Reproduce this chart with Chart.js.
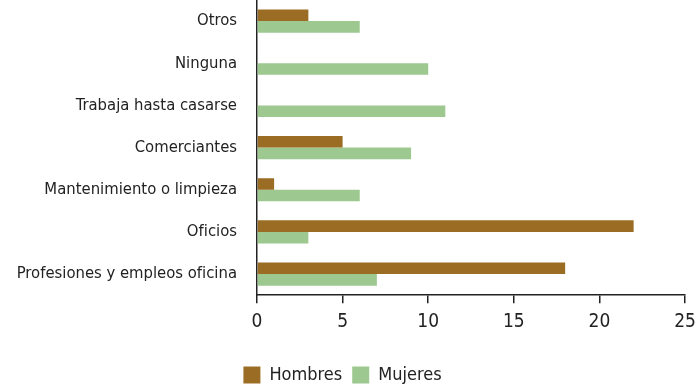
<!DOCTYPE html>
<html lang="es">
<head>
  <meta charset="utf-8" />
  <title>Ocupación: hombres y mujeres</title>
  <script src="https://cdn.jsdelivr.net/npm/chart.js"></script>
  <style>
    html, body { margin: 0; padding: 0; background: #fff; }
    #wrap { width: 700px; height: 389px; }
  </style>
</head>
<body>
  <div id="wrap"><canvas id="chart"></canvas></div>
  <script>
    const categorias = [
      'Otros',
      'Ninguna',
      'Trabaja hasta casarse',
      'Comerciantes',
      'Mantenimiento o limpieza',
      'Oficios',
      'Profesiones y empleos oficina'
    ];
    const hombres = [3, 0, 0, 5, 1, 22, 18];
    const mujeres = [6, 10, 11, 9, 6, 3, 7];
    const ticksX = [0, 5, 10, 15, 20, 25];

    const fuente = "'Liberation Sans Narrow', 'DejaVu Sans Condensed', sans-serif";

    // la leyenda queda un poco más baja que lo normal
    const ajusteLeyenda = {
      id: 'ajusteLeyenda',
      beforeInit(chart) {
        if (!chart.legend) return;
        const fitOrig = chart.legend.fit;
        chart.legend.fit = function () {
          fitOrig.call(this);
          this.height -= 5;
        };
      }
    };

    new Chart(document.getElementById('chart'), {
      type: 'bar',
      data: {
        labels: categorias,
        datasets: [
          {
            label: 'Hombres',
            data: hombres,
            backgroundColor: '#9b6d24',
            barPercentage: 1,
            categoryPercentage: 0.55
          },
          {
            label: 'Mujeres',
            data: mujeres,
            backgroundColor: '#9dc890',
            barPercentage: 1,
            categoryPercentage: 0.55
          }
        ]
      },
      options: {
        indexAxis: 'y',
        responsive: true,
        maintainAspectRatio: false,
        animation: false,
        layout: { padding: { top: 0, right: 15, bottom: 0, left: 0 } },
        plugins: {
          tooltip: { enabled: false },
          legend: {
            position: 'bottom',
            labels: {
              color: '#222',
              font: { family: fuente, size: 18 },
              boxWidth: 17,
              boxHeight: 17,
              padding: 10
            }
          }
        },
        scales: {
          x: {
            min: 0,
            max: 25,
            afterBuildTicks: s => { s.ticks = ticksX.map(v => ({ value: v })); },
            afterFit: s => {
              s.height += 16;
              s.paddingRight = 0;
            },
            grid: {
              drawOnChartArea: false,
              drawTicks: true,
              tickLength: 8,
              color: '#222',
              lineWidth: 1.5
            },
            border: { color: '#222', width: 1.5 },
            ticks: {
              color: '#222',
              padding: 7,
              font: { family: fuente, size: 19 }
            }
          },
          y: {
            afterFit: s => {
              s.width = 257;
              s.paddingTop = 0;
              s.paddingBottom = 0;
            },
            grid: {
              drawOnChartArea: false,
              drawTicks: true,
              tickLength: 20,
              color: 'rgba(0,0,0,0)'
            },
            border: { color: '#222', width: 1.5 },
            ticks: {
              color: '#222',
              padding: 0,
              font: { family: fuente, size: 16.5 }
            }
          }
        }
      },
      plugins: [ajusteLeyenda]
    });
  </script>
</body>
</html>
